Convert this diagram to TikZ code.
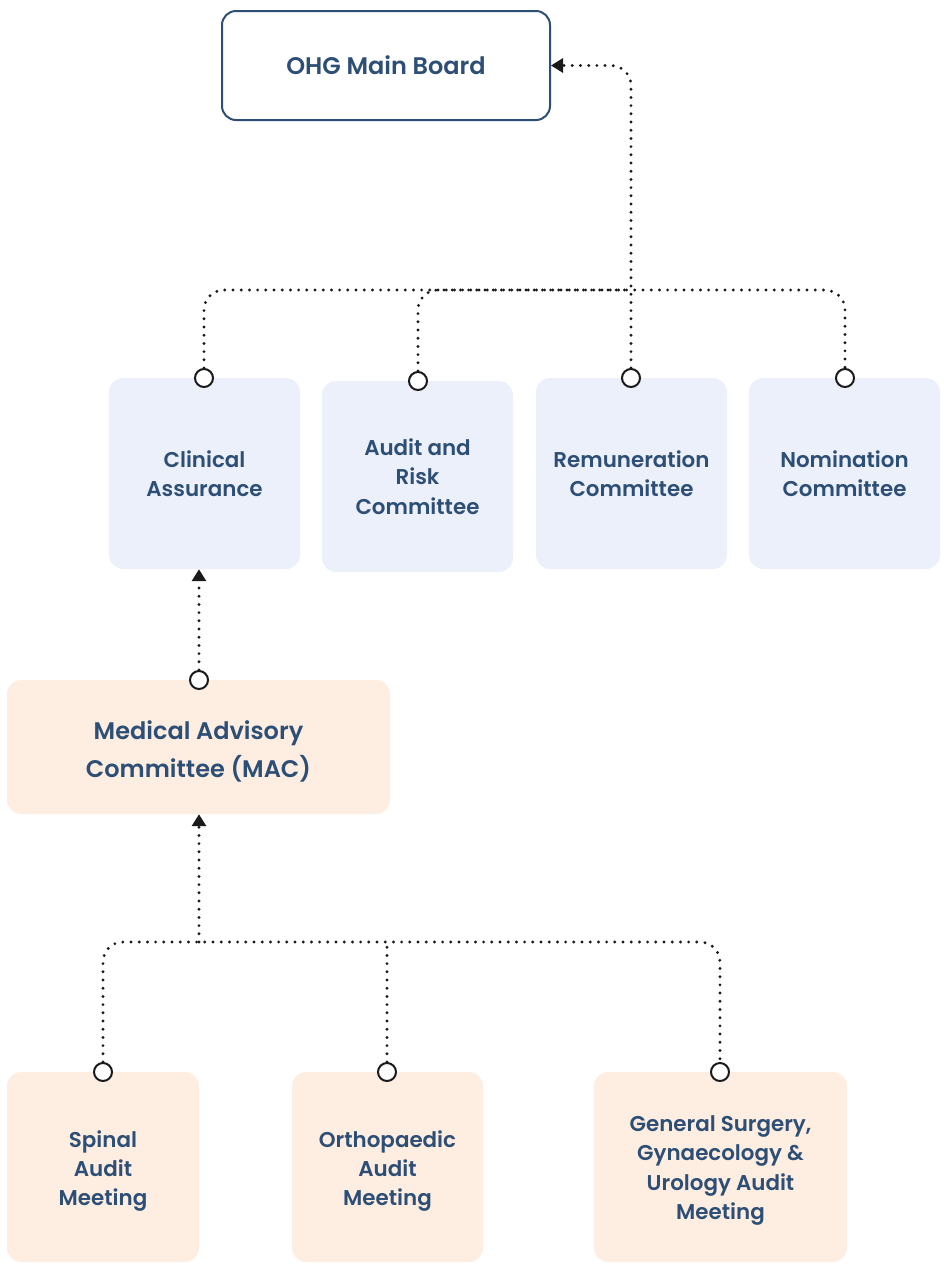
\documentclass[tikz,border=0pt]{standalone}
\usepackage{fontspec}
\setmainfont{Poppins}[BoldFont={Poppins SemiBold}]
\usepackage{tikz}
\usetikzlibrary{arrows.meta}

\definecolor{inkblue}{HTML}{2D4E75}
\definecolor{govfill}{HTML}{ECF0FB}
\definecolor{medfill}{HTML}{FEEEE2}
\definecolor{dotgrey}{HTML}{1A1A1A}

% text set lower inside its box, box size kept
\newcommand{\lowered}[2]{\raisebox{-#1}[\height][\depth]{\begin{tabular}{@{}c@{}}#2\end{tabular}}}

\tikzset{
  board/.style={draw=inkblue, line width=2pt, fill=white, rounded corners=14pt,
    minimum width=328pt, minimum height=109pt, inner sep=0pt,
    font=\fontsize{24}{30}\selectfont\bfseries, text=inkblue},
  govbox/.style={fill=govfill, rounded corners=14pt, minimum width=191pt,
    minimum height=191pt, inner sep=0pt, align=center,
    font=\fontsize{21.4}{29.3}\selectfont\bfseries, text=inkblue},
  medbox/.style={govbox, fill=medfill},
  port/.style={circle, draw=dotgrey, line width=2pt, fill=white,
    minimum size=18pt, inner sep=0pt},
  link/.style={dotgrey, line width=3.2pt, line cap=round,
    dash pattern=on 0pt off 8.2pt, rounded corners=20pt},
  tip/.style={-{Triangle[width=14pt,length=12pt]}}
}

\begin{document}
\begin{tikzpicture}[x=1pt, y=-1pt]
  \useasboundingbox (0,0) rectangle (944,1270);

  % Board
  \node[board] (board) at (386,65.5) {OHG Main Board};

  % Committees
  \node[govbox] (clin) at (204.5,473.5) {Clinical\\Assurance};
  \node[govbox] (aud) at (417.5,476.5) {Audit and\\Risk\\Committee};
  \node[govbox] (rem) at (631.5,473.5) {Remuneration\\Committee};
  \node[govbox] (nom) at (844.5,473.5) {Nomination\\Committee};

  % MAC
  \node[medbox, minimum width=383pt, minimum height=134pt,
    font=\fontsize{24}{38}\selectfont\bfseries] (mac) at (198.5,747)
    {\lowered{4pt}{Medical Advisory\\Committee (MAC)}};

  % Audit meetings
  \node[medbox, minimum width=192pt, minimum height=190pt] (spi) at (103,1167)
    {\lowered{3.5pt}{Spinal\\Audit\\Meeting}};
  \node[medbox, minimum height=190pt] (ort) at (387.5,1167)
    {\lowered{3.5pt}{Orthopaedic\\Audit\\Meeting}};
  \node[medbox, minimum width=253pt, minimum height=190pt] (gen) at (720.5,1167)
    {\lowered{2.5pt}{General Surgery,\\Gynaecology \&\\Urology Audit\\Meeting}};

  % Ports
  \node[port] (clin-port) at (204,378) {};
  \node[port] (aud-port) at (418,381) {};
  \node[port] (rem-port) at (631,378) {};
  \node[port] (nom-port) at (845,378) {};
  \node[port] (mac-port) at (199,680) {};
  \node[port] (spi-port) at (103,1072) {};
  \node[port] (ort-port) at (387,1072) {};
  \node[port] (gen-port) at (720,1072) {};

  % Buses
  \coordinate (topbus) at (0,290);
  \coordinate (lowbus) at (199,942);

  % Committees to board
  \draw[link] (clin-port.north) -- (clin-port.north |- topbus)
    -- (nom-port.north |- topbus) -- (nom-port.north);
  \draw[link] (aud-port.north) -- (aud-port.north |- topbus)
    -- (rem-port.north |- topbus);
  \draw[link, tip] (rem-port.north) -- (rem-port.north |- board.east) -- (board.east);

  % MAC to clinical assurance
  \draw[link, tip] (mac-port.north) -- (mac-port.north |- clin.south);

  % Meetings to MAC
  \draw[link] (spi-port.north) -- (spi-port.north |- lowbus)
    -- (gen-port.north |- lowbus) -- (gen-port.north);
  \draw[link] (ort-port.north) -- (ort-port.north |- lowbus);
  \draw[link, tip] (lowbus) -- (lowbus |- mac.south);
\end{tikzpicture}
\end{document}
